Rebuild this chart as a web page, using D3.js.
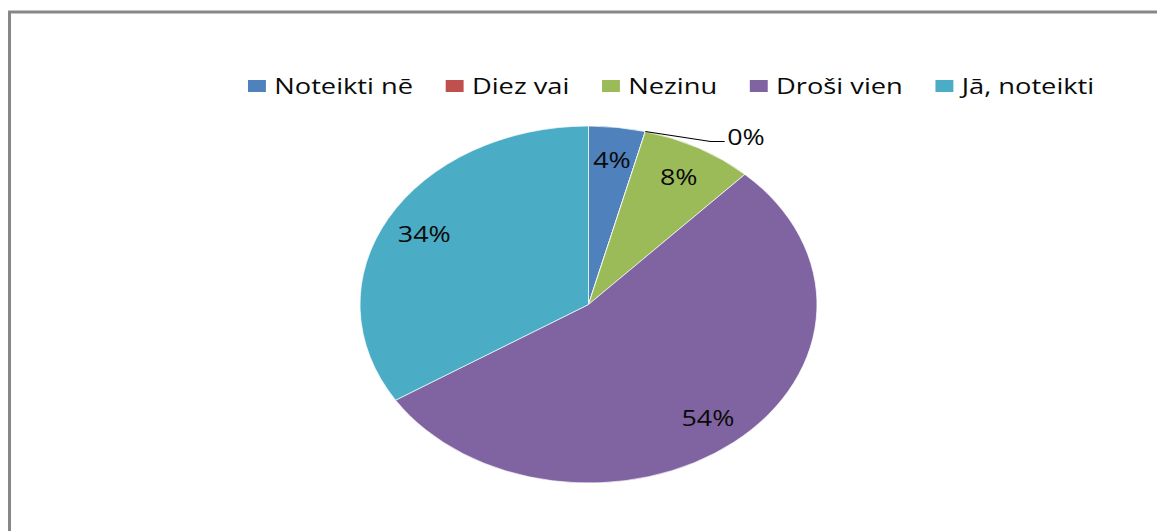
<!DOCTYPE html>
<html>
<head>
<meta charset="utf-8">
<script src="https://cdn.jsdelivr.net/npm/d3@7"></script>
<style>
  body { margin: 0; background: #fff; }
  text { font-family: "Open Sans", sans-serif; fill: #0a0a0a; }
</style>
</head>
<body>
<script>
let categories = ["Noteikti nē", "Diez vai", "Nezinu", "Droši vien", "Jā, noteikti"];
let values = [4, 0, 8, 54, 34];
let colors = ["#4F81BD", "#C0504D", "#9BBB59", "#8064A2", "#4BACC6"];

let width = 1157;
let height = 531;
let stretch = 1.28;       // the chart is drawn wider than tall
let radius = 178.5;
let cx = 588.5, cy = 304.5;

let data = categories.map((c, i) => ({ name: c, value: values[i], color: colors[i] }));

let svg = d3.select("body").append("svg")
    .attr("width", width)
    .attr("height", height);

// frame (only left and top edges show)
svg.append("rect")
    .attr("x", 9.5)
    .attr("y", 12)
    .attr("width", width + 20)
    .attr("height", height + 20)
    .attr("fill", "none")
    .attr("stroke", "#878787")
    .attr("stroke-width", 3);

let pie = d3.pie()
    .value((d) => d.value)
    .sort(null);

let arcs = pie(data);

let arc = d3.arc()
    .innerRadius(0)
    .outerRadius(radius);

let labelArc = d3.arc()
    .innerRadius(radius * 0.82)
    .outerRadius(radius * 0.82);

let edgeArc = d3.arc()
    .innerRadius(radius)
    .outerRadius(radius);

let chart = svg.append("g")
    .attr("transform", `translate(${cx}, ${cy}) scale(${stretch}, 1)`);

chart.selectAll("path.slice")
    .data(arcs)
    .enter()
        .append("path")
        .attr("class", "slice")
        .attr("d", arc)
        .attr("fill", (d) => d.data.color)
        .attr("stroke", "#fff")
        .attr("stroke-width", 0.6);

// labels inside the slices
chart.selectAll("text.pct")
    .data(arcs.filter((d) => d.data.value > 0))
    .enter()
        .append("text")
        .attr("class", "pct")
        .attr("x", (d) => labelArc.centroid(d)[0])
        .attr("y", (d) => labelArc.centroid(d)[1])
        .attr("text-anchor", "middle")
        .attr("dominant-baseline", "central")
        .attr("font-size", 21)
        .text((d) => d.data.value + "%");

// the empty slice gets a leader line
let small = arcs.filter((d) => d.data.value === 0);
small.forEach((d) => {
    let p0 = edgeArc.centroid(d);
    let p1 = [p0[0] + 51, p0[1] + 10];
    let p2 = [p1[0] + 11, p1[1]];
    chart.append("polyline")
        .attr("points", [p0, p1, p2].map((p) => p.join(",")).join(" "))
        .attr("fill", "none")
        .attr("stroke", "#000")
        .attr("stroke-width", 1);
    chart.append("text")
        .attr("x", p2[0] + 2)
        .attr("y", p2[1] - 5)
        .attr("dominant-baseline", "central")
        .attr("font-size", 21)
        .text(d.data.value + "%");
});

// legend
let legend = svg.append("g")
    .attr("transform", `translate(248, 86) scale(${stretch}, 1)`);

let xPos = 0;
data.forEach((d) => {
    legend.append("rect")
        .attr("x", xPos)
        .attr("y", -6)
        .attr("width", 14)
        .attr("height", 12)
        .attr("fill", d.color);
    let t = legend.append("text")
        .attr("x", xPos + 20.5)
        .attr("y", 0)
        .attr("dominant-baseline", "central")
        .attr("font-size", 21.3)
        .text(d.name);
    xPos += 20.5 + t.node().getComputedTextLength() + 25.5;
});
</script>
</body>
</html>
